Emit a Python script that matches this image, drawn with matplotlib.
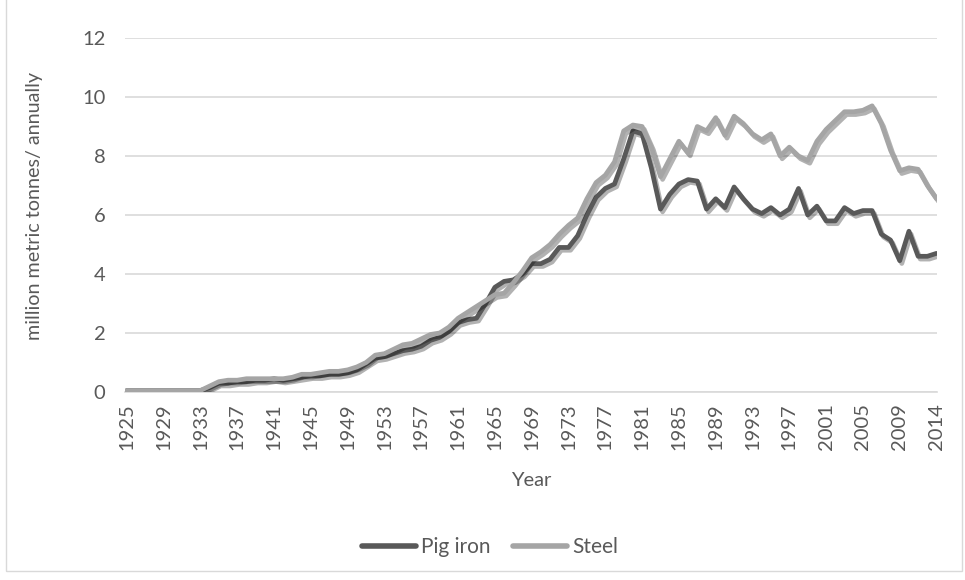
import matplotlib
matplotlib.use("Agg")
import matplotlib.pyplot as plt
import matplotlib.patheffects as pe
from matplotlib.patches import Rectangle

plt.rcParams['font.family'] = ['Lato', 'DejaVu Sans']

# years on the category axis (one year between 2009 and 2014 is not in the source)
years = list(range(1925, 2010)) + [2010, 2011, 2013, 2014]

pig_iron = [0.05, 0.05, 0.05, 0.05, 0.05, 0.05, 0.05, 0.05, 0.05, 0.15,
            0.3, 0.3, 0.35, 0.35, 0.4, 0.4, 0.45, 0.4, 0.45, 0.5,
            0.55, 0.55, 0.6, 0.6, 0.65, 0.75, 0.95, 1.15, 1.2, 1.3,
            1.4, 1.45, 1.55, 1.75, 1.85, 2.05, 2.35, 2.45, 2.5, 3.0,
            3.55, 3.75, 3.8, 4.0, 4.35, 4.35, 4.5, 4.9, 4.9, 5.3,
            6.0, 6.6, 6.9, 7.05, 7.9, 8.85, 8.75, 7.6, 6.2, 6.7,
            7.05, 7.2, 7.15, 6.2, 6.55, 6.25, 6.95, 6.55, 6.2, 6.05,
            6.25, 6.0, 6.2, 6.9, 6.0, 6.3, 5.8, 5.8, 6.25, 6.05,
            6.15, 6.15, 5.35, 5.15, 4.45, 5.45, 4.6, 4.6, 4.7]

steel = [0.05, 0.05, 0.05, 0.05, 0.05, 0.05, 0.05, 0.05, 0.05, 0.2,
         0.35, 0.4, 0.4, 0.45, 0.45, 0.45, 0.45, 0.45, 0.5, 0.6,
         0.6, 0.65, 0.7, 0.7, 0.75, 0.85, 1.0, 1.25, 1.3, 1.45,
         1.6, 1.65, 1.8, 1.95, 2.0, 2.2, 2.5, 2.7, 2.9, 3.1,
         3.3, 3.35, 3.7, 4.1, 4.55, 4.75, 5.0, 5.35, 5.65, 5.9,
         6.55, 7.1, 7.35, 7.8, 8.85, 9.05, 9.0, 8.3, 7.3, 7.9,
         8.5, 8.1, 9.0, 8.85, 9.3, 8.7, 9.35, 9.1, 8.75, 8.55,
         8.75, 8.0, 8.3, 8.0, 7.85, 8.5, 8.9, 9.2, 9.5, 9.5,
         9.55, 9.7, 9.1, 8.2, 7.5, 7.6, 7.55, 7.0, 6.55]

yticks = [0, 2, 4, 6, 8, 10, 12]

text_col = '#595959'
grid_col = '#D9D9D9'
fs = 14.5

fig = plt.figure(figsize=(9.65, 5.8), dpi=100)
ax = fig.add_axes([125 / 965, 188 / 580, 812 / 965, 354 / 580])

idx = list(range(len(years)))
shadow = [pe.SimpleLineShadow(offset=(1.5, -2), shadow_color='black', alpha=0.3), pe.Normal()]
ax.plot(idx, pig_iron, color='#595959', lw=3.4, solid_capstyle='round',
        solid_joinstyle='round', label='Pig iron', path_effects=shadow, zorder=3)
ax.plot(idx, steel, color='#A5A5A5', lw=3.4, solid_capstyle='round',
        solid_joinstyle='round', label='Steel', path_effects=shadow, zorder=4)

ax.set_xlim(-0.2, len(years) - 1 + 0.05)
ax.set_ylim(0, 12)
ax.set_yticks(yticks)
ax.set_xticks(idx[::4])
ax.set_xticklabels([str(years[i]) for i in idx[::4]], rotation=90)
ax.tick_params(axis='both', length=0, labelsize=fs, colors=text_col)
ax.tick_params(axis='x', pad=8)
ax.tick_params(axis='y', pad=14)
ax.grid(axis='y', color=grid_col, lw=1.2)
ax.set_axisbelow(True)
for s in ['top', 'right', 'left']:
    ax.spines[s].set_visible(False)
ax.spines['bottom'].set_color(grid_col)
ax.spines['bottom'].set_linewidth(1.2)

ax.set_xlabel('Year', fontsize=fs, color=text_col)
ax.xaxis.set_label_coords(0.5, -0.227)
ax.set_ylabel('million metric tonnes/ annually', fontsize=fs - 0.3, color=text_col)
ax.yaxis.set_label_coords(-0.101, 0.525)

leg = fig.legend(loc='center', bbox_to_anchor=(490 / 965, 1 - 547 / 580), ncol=2,
                 frameon=False, fontsize=15, handlelength=2.6, handletextpad=0.25,
                 columnspacing=1.05, labelcolor=text_col)
for h in leg.get_lines():
    h.set_path_effects([])
    h.set_linewidth(4)

# outer chart border
fig.patches.append(Rectangle((6, 9), 956, 575, transform=None, fill=False,
                             edgecolor='#D9D9D9', lw=1))

fig.savefig('out.png', dpi=100)
